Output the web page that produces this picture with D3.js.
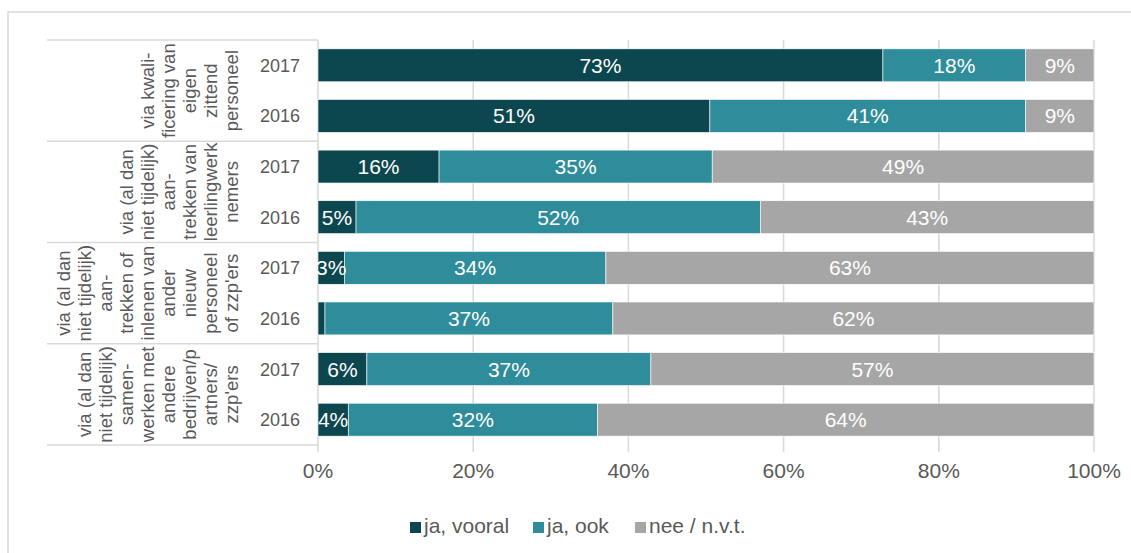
<!DOCTYPE html>
<html><head><meta charset="utf-8">
<script src="https://cdn.jsdelivr.net/npm/d3@7"></script>
<style>body{margin:0;background:#fff}svg{display:block;font-family:Arial,"Liberation Sans",sans-serif}</style>
</head><body><svg id="c" width="1131" height="553"></svg>
<script>
const groups = [
  ["via kwali-", "ficering van", "eigen", "zittend", "personeel"],
  ["via (al dan", "niet tijdelijk)", "aan-", "trekken van", "leerlingwerk", "nemers"],
  ["via (al dan", "niet tijdelijk)", "aan-", "trekken of", "inlenen van", "ander", "nieuw", "personeel", "of zzp'ers"],
  ["via (al dan", "niet tijdelijk)", "samen-", "werken met", "andere", "bedrijven/p", "artners/", "zzp'ers"]
];
const years = ["2017", "2016"];
const seriesNames = ["ja, vooral", "ja, ook", "nee / n.v.t."];
const colors = ["#0c4750", "#2e8c9b", "#a6a6a6"];
const jaVooral = [72.8, 50.5, 15.6, 4.9, 3.4, 0.9, 6.3, 3.9];
const jaOok    = [18.4, 40.7, 35.2, 52.1, 33.7, 37.1, 36.6, 32.1];
const nee      = [8.8, 8.8, 49.2, 43.0, 62.9, 62.0, 57.1, 64.0];
const ticks = [0, 20, 40, 60, 80, 100];

const rows = [];
groups.forEach((g, gi) => years.forEach((y, yi) => rows.push({g: gi, year: y, id: gi + "-" + y})));
rows.forEach((r, i) => { r.vals = [jaVooral[i], jaOok[i], nee[i]]; });

const svg = d3.select("#c");
const x = d3.scaleLinear().domain([0, 100]).range([318, 1094]);
const y = d3.scaleBand().domain(rows.map(r => r.id)).range([40, 445]).paddingInner(0.35).paddingOuter(0.175);
const grey = "#d9d9d9", txt = "#595959";

// outer border
svg.append("rect").attr("x", 8).attr("y", 12).attr("width", 1140).attr("height", 560)
  .attr("fill", "none").attr("stroke", grey).attr("stroke-width", 1.5);

// gridlines + ticks
svg.append("g").selectAll("line").data(ticks.slice(1)).join("line")
  .attr("x1", d => x(d)).attr("x2", d => x(d)).attr("y1", 40).attr("y2", 452)
  .attr("stroke", grey).attr("stroke-width", 1.5);
svg.append("line").attr("x1", x(0)).attr("x2", x(0)).attr("y1", 40).attr("y2", 452).attr("stroke", grey).attr("stroke-width", 1.5);

// group separators
const step = (445 - 40) / rows.length;
svg.append("g").selectAll("line").data(d3.range(groups.length + 1)).join("line")
  .attr("x1", 47).attr("x2", x(0)).attr("y1", d => 40 + d * 2 * step).attr("y2", d => 40 + d * 2 * step)
  .attr("stroke", grey).attr("stroke-width", 1.5);

// bars
const stack = rows.map(r => { let c = 0; return r.vals.map((v, k) => { const s = {x0: c, x1: c + v, v, k, r}; c += v; return s; }); });
const segs = stack.flat();
svg.append("g").selectAll("rect").data(segs).join("rect")
  .attr("x", d => x(d.x0)).attr("width", d => x(d.x1) - x(d.x0))
  .attr("y", d => y(d.r.id)).attr("height", y.bandwidth())
  .attr("fill", d => colors[d.k]).attr("stroke", "#fff").attr("stroke-width", 0.6);
svg.append("g").selectAll("text").data(segs.filter(d => Math.round(d.v) >= 2)).join("text")
  .attr("x", d => x((d.x0 + d.x1) / 2)).attr("y", d => y(d.r.id) + y.bandwidth() / 2)
  .attr("dy", "0.36em").attr("text-anchor", "middle").attr("fill", "#fff").attr("font-size", 21)
  .text(d => Math.round(d.v) + "%");

// year labels
svg.append("g").selectAll("text").data(rows).join("text")
  .attr("x", 280).attr("y", d => y(d.id) + y.bandwidth() / 2).attr("dy", "0.36em")
  .attr("text-anchor", "middle").attr("fill", txt).attr("font-size", 18).text(d => d.year);

// category labels (rotated)
groups.forEach((lines, gi) => {
  const cy = 40 + (gi * 2 + 1) * step;
  const n = lines.length, lh = 21, lastX = 238;
  svg.append("g").selectAll("text").data(lines).join("text")
    .attr("transform", (d, i) => `translate(${lastX - (n - 1 - i) * lh},${cy}) rotate(-90)`)
    .attr("text-anchor", "middle").attr("fill", txt).attr("font-size", 18.5).text(d => d);
});

// x axis labels
svg.append("g").selectAll("text").data(ticks).join("text")
  .attr("x", d => x(d)).attr("y", 478).attr("text-anchor", "middle").attr("fill", txt)
  .attr("font-size", 21).text(d => d + "%");

// legend
const lx = [410, 533, 635];
const lg = svg.append("g").selectAll("g").data(seriesNames).join("g")
  .attr("transform", (d, i) => `translate(${lx[i]},527)`);
lg.append("rect").attr("x", 0).attr("y", -5).attr("width", 11).attr("height", 11).attr("fill", (d, i) => colors[i]);
lg.append("text").attr("x", 14).attr("y", 6).attr("fill", txt).attr("font-size", 21).text(d => d);
</script></body></html>
